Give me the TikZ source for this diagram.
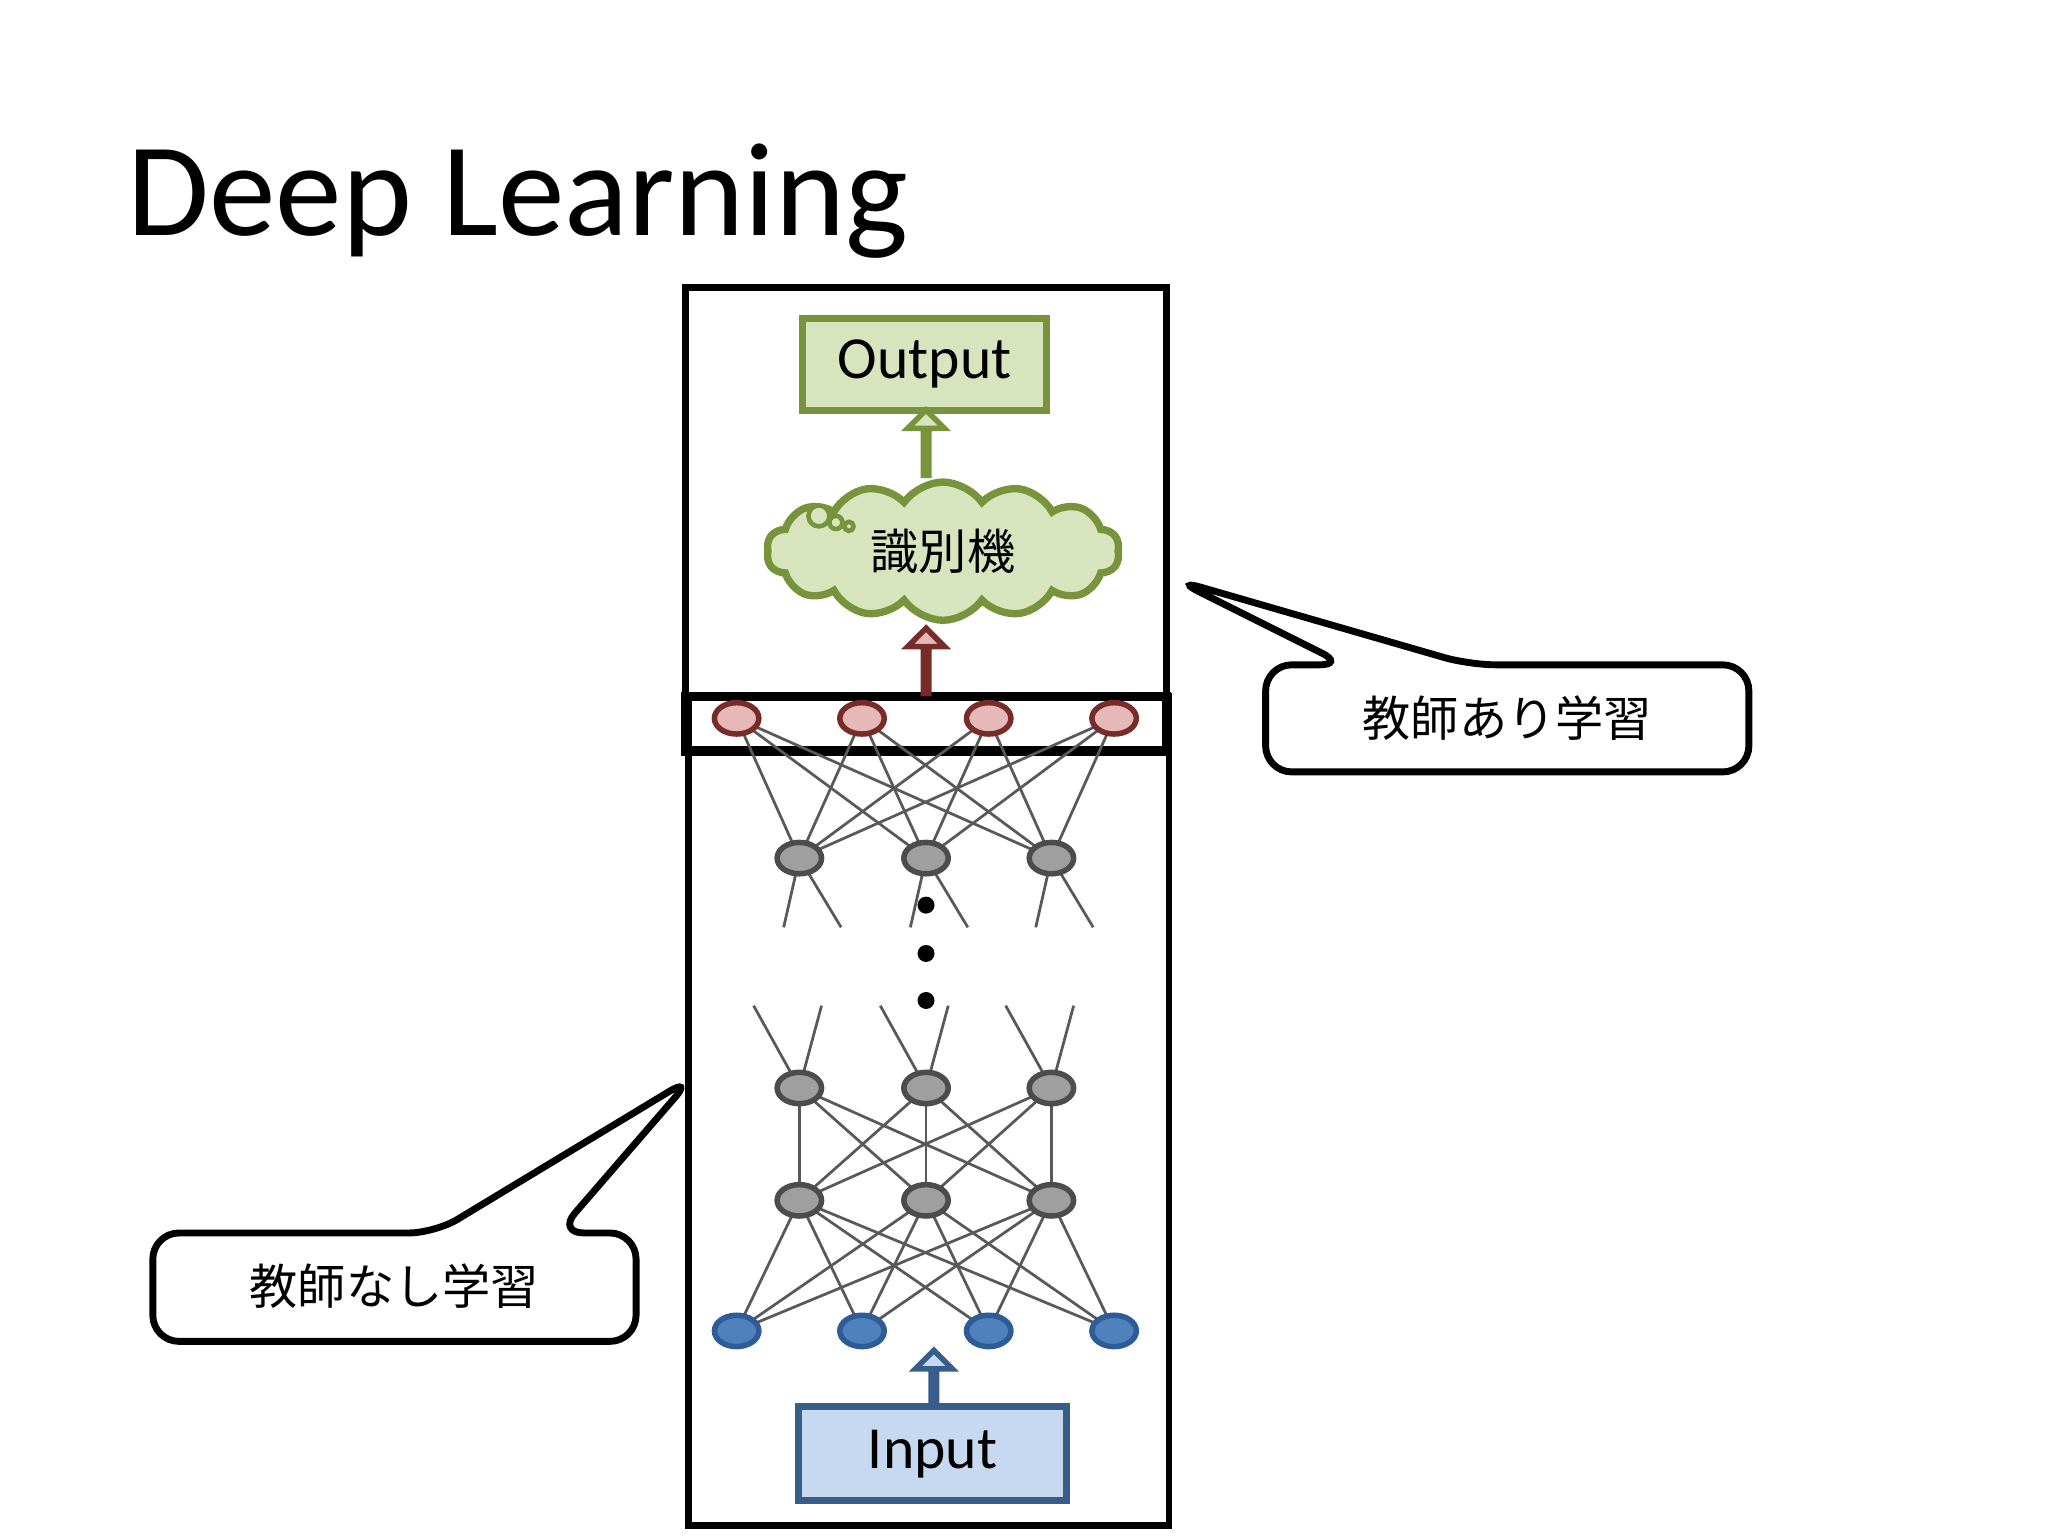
\documentclass[tikz,border=0pt]{standalone}
\usepackage{fontspec}
\setmainfont{Carlito}
\newfontfamily\cjk{Noto Sans CJK JP}
\usetikzlibrary{shapes.symbols,shapes.arrows,shapes.geometric}
\definecolor{gfill}{HTML}{D7E4BD}\definecolor{gline}{HTML}{77933C}
\definecolor{rfill}{HTML}{E6B9B8}\definecolor{rline}{HTML}{772C2A}
\definecolor{bfill}{HTML}{C6D9F1}\definecolor{bline}{HTML}{385D8A}
\definecolor{nblue}{HTML}{4F81BD}\definecolor{nblueb}{HTML}{2E5C97}
\begin{document}
\begin{tikzpicture}[x=0.01cm,y=-0.01cm,
 neuron/.style={ellipse,minimum width=0.34cm,minimum height=0.24cm,inner sep=0,line width=1.2pt},
 rn/.style={neuron,fill=rfill,draw=rline},
 gn/.style={neuron,fill=gray!75,draw=gray!60!black},
 bn/.style={neuron,fill=nblue,draw=nblueb},
 ln/.style={draw=black!65,line width=0.6pt},
 callout/.style={draw,line width=1.5pt,rounded corners=0.2cm,fill=white},
 blk/.style={single arrow,shape border rotate=90,single arrow head extend=0.12cm,minimum height=0.5cm,minimum width=0.26cm,inner sep=0,line width=1.2pt}]
\useasboundingbox (0,0) rectangle (1568,1176);
\node[anchor=base west,inner sep=0,font=\fontsize{29}{34}\selectfont] (title) at (97,180) {Deep Learning};
% boxes
\draw[line width=1.5pt] (525,220) rectangle (893,575);
\draw[line width=1.5pt] (527,533) rectangle (895,1168);
\draw[line width=2pt] (525,533) rectangle (893,575);
% output
\node[draw=gline,fill=gfill,line width=1.5pt,minimum width=1.87cm,minimum height=0.7cm,font=\fontsize{13}{15}\selectfont] (out) at (708,279) {Output};
\node[blk,fill=gfill,draw=gline] (ga) at (709,340) {};
\node[cloud,cloud puffs=14,cloud puff arc=110,aspect=2.8,draw=gline,fill=gfill,line width=1.6pt,minimum width=2.7cm,minimum height=1.0cm,font=\cjk\fontsize{10.5}{12}\selectfont] (cl) at (722,422) {識別機};
\draw[gline,fill=gfill,line width=1pt] (627,395) circle (0.08cm) (640,400) circle (0.05cm) (650,403) circle (0.035cm);
\node[blk,fill=rfill,draw=rline] (ra) at (709,507) {};
% nodes
\foreach \i/\x in {1/564,2/660,3/757,4/853}{\coordinate (r\i) at (\x,550); \coordinate (b\i) at (\x,1019);}
\foreach \i/\x in {1/612,2/709,3/805}{\coordinate (g\i) at (\x,657);\coordinate (h\i) at (\x,833);\coordinate (k\i) at (\x,919);}
\foreach \a in {1,...,4}\foreach \b in {1,2,3}{\draw[ln] (r\a)--(g\b); \draw[ln] (b\a)--(k\b);}
\foreach \a in {1,2,3}\foreach \b in {1,2,3}{\draw[ln] (h\a)--(k\b);}
\foreach \i/\x in {1/612,2/709,3/805}{
 \coordinate (gd\i) at (\x-12,710); \coordinate (ge\i) at (\x+32,710);
 \coordinate (hu\i) at (\x-35,770); \coordinate (hv\i) at (\x+17,770);
 \draw[ln] (g\i)--(gd\i) (g\i)--(ge\i) (h\i)--(hu\i) (h\i)--(hv\i);}
\foreach \i in {1,...,4}{\node[rn] (R\i) at (r\i){}; \node[bn] (B\i) at (b\i){};}
\foreach \i in {1,2,3}{\node[gn] (G\i) at (g\i){}; \node[gn] (H\i) at (h\i){}; \node[gn] (K\i) at (k\i){};}
\foreach \y in {693,730,766}\fill (709,\y) circle (0.065cm);
% input
\node[draw=bline,fill=bfill,line width=1.5pt,minimum width=2.05cm,minimum height=0.72cm,font=\fontsize{13}{15}\selectfont] (in) at (714,1113) {Input};
\node[blk,fill=bfill,draw=bline,minimum height=0.42cm] (ba) at (715,1056) {};
% callouts
\coordinate (p1) at (900,444); \coordinate (p2) at (530,825);
\draw[callout] (969,509) -- (1030,509) -- (p1) -- (1125,509) -- (1339,509) -- (1339,591) -- (969,591) -- cycle;
\node[font=\cjk\fontsize{10.5}{12}\selectfont] (c1) at (1154,550) {教師あり学習};
\draw[callout] (117,944) -- (333,944) -- (p2) -- (427,944) -- (487,944) -- (487,1027) -- (117,1027) -- cycle;
\node[font=\cjk\fontsize{10.5}{12}\selectfont] (c2) at (302,985) {教師なし学習};
\end{tikzpicture}
\end{document}
